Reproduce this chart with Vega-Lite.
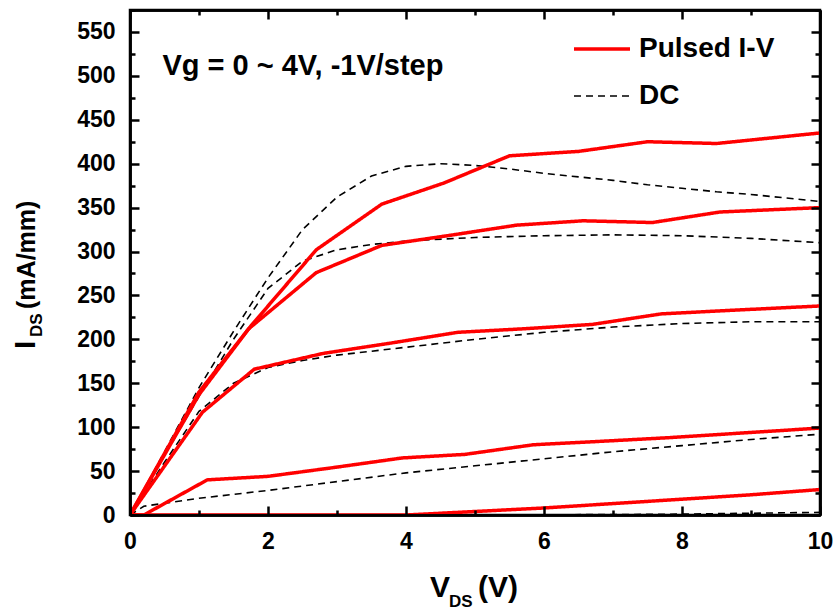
{
  "$schema": "https://vega.github.io/schema/vega-lite/v6.json",
  "width": 690,
  "height": 505,
  "autosize": "none",
  "padding": {"left": 130, "top": 10, "right": 17, "bottom": 99},
  "config": {
    "view": {"stroke": "black", "strokeWidth": 2.5},
    "font": "Liberation Sans",
    "axis": {
      "domain": true,
      "domainColor": "black",
      "domainWidth": 2.5,
      "grid": false,
      "ticks": true,
      "tickColor": "black",
      "tickWidth": 2.5,
      "tickOpacity": 1,
      "labelFlush": false,
      "labelFont": "Liberation Sans",
      "labelFontWeight": "bold",
      "labelFontSize": 23,
      "labelColor": "black",
      "title": null,
      "zindex": 5
    }
  },
  "datasets": {
    "one": [{}],
    "curves": [
      {"t": "DC", "s": "DC 0", "x": 0, "y": 0},
      {"t": "DC", "s": "DC 0", "x": 0.5, "y": 72},
      {"t": "DC", "s": "DC 0", "x": 1, "y": 145},
      {"t": "DC", "s": "DC 0", "x": 1.5, "y": 209},
      {"t": "DC", "s": "DC 0", "x": 2, "y": 270},
      {"t": "DC", "s": "DC 0", "x": 2.5, "y": 325},
      {"t": "DC", "s": "DC 0", "x": 3, "y": 362},
      {"t": "DC", "s": "DC 0", "x": 3.5, "y": 386},
      {"t": "DC", "s": "DC 0", "x": 4, "y": 397},
      {"t": "DC", "s": "DC 0", "x": 4.5, "y": 400},
      {"t": "DC", "s": "DC 0", "x": 5, "y": 398},
      {"t": "DC", "s": "DC 0", "x": 5.5, "y": 394},
      {"t": "DC", "s": "DC 0", "x": 6, "y": 389},
      {"t": "DC", "s": "DC 0", "x": 6.5, "y": 385},
      {"t": "DC", "s": "DC 0", "x": 7, "y": 381},
      {"t": "DC", "s": "DC 0", "x": 7.5, "y": 376},
      {"t": "DC", "s": "DC 0", "x": 8, "y": 372},
      {"t": "DC", "s": "DC 0", "x": 8.5, "y": 368},
      {"t": "DC", "s": "DC 0", "x": 9, "y": 365},
      {"t": "DC", "s": "DC 0", "x": 9.5, "y": 361},
      {"t": "DC", "s": "DC 0", "x": 10, "y": 357},
      {"t": "DC", "s": "DC -1", "x": 0, "y": 0},
      {"t": "DC", "s": "DC -1", "x": 0.5, "y": 68},
      {"t": "DC", "s": "DC -1", "x": 1, "y": 135},
      {"t": "DC", "s": "DC -1", "x": 1.5, "y": 200},
      {"t": "DC", "s": "DC -1", "x": 2, "y": 258},
      {"t": "DC", "s": "DC -1", "x": 2.5, "y": 289},
      {"t": "DC", "s": "DC -1", "x": 3, "y": 302},
      {"t": "DC", "s": "DC -1", "x": 3.5, "y": 308},
      {"t": "DC", "s": "DC -1", "x": 4, "y": 312},
      {"t": "DC", "s": "DC -1", "x": 5, "y": 316},
      {"t": "DC", "s": "DC -1", "x": 6, "y": 318},
      {"t": "DC", "s": "DC -1", "x": 7, "y": 319},
      {"t": "DC", "s": "DC -1", "x": 8, "y": 318},
      {"t": "DC", "s": "DC -1", "x": 9, "y": 315},
      {"t": "DC", "s": "DC -1", "x": 10, "y": 310},
      {"t": "DC", "s": "DC -2", "x": 0, "y": 0},
      {"t": "DC", "s": "DC -2", "x": 0.5, "y": 60},
      {"t": "DC", "s": "DC -2", "x": 1, "y": 118},
      {"t": "DC", "s": "DC -2", "x": 1.5, "y": 150},
      {"t": "DC", "s": "DC -2", "x": 2, "y": 168},
      {"t": "DC", "s": "DC -2", "x": 2.5, "y": 176},
      {"t": "DC", "s": "DC -2", "x": 3, "y": 182},
      {"t": "DC", "s": "DC -2", "x": 4, "y": 191},
      {"t": "DC", "s": "DC -2", "x": 5, "y": 200},
      {"t": "DC", "s": "DC -2", "x": 6, "y": 208},
      {"t": "DC", "s": "DC -2", "x": 7, "y": 214},
      {"t": "DC", "s": "DC -2", "x": 8, "y": 218},
      {"t": "DC", "s": "DC -2", "x": 9, "y": 220},
      {"t": "DC", "s": "DC -2", "x": 10, "y": 220},
      {"t": "DC", "s": "DC -3", "x": 0, "y": 0},
      {"t": "DC", "s": "DC -3", "x": 0.2, "y": 10},
      {"t": "DC", "s": "DC -3", "x": 1, "y": 19},
      {"t": "DC", "s": "DC -3", "x": 2, "y": 28},
      {"t": "DC", "s": "DC -3", "x": 3, "y": 38},
      {"t": "DC", "s": "DC -3", "x": 4, "y": 48},
      {"t": "DC", "s": "DC -3", "x": 5, "y": 56},
      {"t": "DC", "s": "DC -3", "x": 6, "y": 64},
      {"t": "DC", "s": "DC -3", "x": 7, "y": 72},
      {"t": "DC", "s": "DC -3", "x": 8, "y": 79},
      {"t": "DC", "s": "DC -3", "x": 9, "y": 86},
      {"t": "DC", "s": "DC -3", "x": 10, "y": 92},
      {"t": "DC", "s": "DC -4", "x": 0, "y": 0},
      {"t": "DC", "s": "DC -4", "x": 5, "y": 0},
      {"t": "DC", "s": "DC -4", "x": 7, "y": 0.5},
      {"t": "DC", "s": "DC -4", "x": 8, "y": 1},
      {"t": "DC", "s": "DC -4", "x": 9, "y": 2},
      {"t": "DC", "s": "DC -4", "x": 10, "y": 3},
      {"t": "Pulsed I-V", "s": "P 0", "x": 0, "y": 0},
      {"t": "Pulsed I-V", "s": "P 0", "x": 1.0, "y": 140},
      {"t": "Pulsed I-V", "s": "P 0", "x": 1.75, "y": 215},
      {"t": "Pulsed I-V", "s": "P 0", "x": 2.7, "y": 302},
      {"t": "Pulsed I-V", "s": "P 0", "x": 3.65, "y": 354},
      {"t": "Pulsed I-V", "s": "P 0", "x": 4.55, "y": 378},
      {"t": "Pulsed I-V", "s": "P 0", "x": 5.5, "y": 409},
      {"t": "Pulsed I-V", "s": "P 0", "x": 6.5, "y": 414},
      {"t": "Pulsed I-V", "s": "P 0", "x": 7.5, "y": 425},
      {"t": "Pulsed I-V", "s": "P 0", "x": 8.5, "y": 423},
      {"t": "Pulsed I-V", "s": "P 0", "x": 10, "y": 435},
      {"t": "Pulsed I-V", "s": "P -1", "x": 0, "y": 0},
      {"t": "Pulsed I-V", "s": "P -1", "x": 1.0, "y": 137},
      {"t": "Pulsed I-V", "s": "P -1", "x": 1.72, "y": 212},
      {"t": "Pulsed I-V", "s": "P -1", "x": 2.7, "y": 276},
      {"t": "Pulsed I-V", "s": "P -1", "x": 3.65, "y": 307},
      {"t": "Pulsed I-V", "s": "P -1", "x": 4.6, "y": 318},
      {"t": "Pulsed I-V", "s": "P -1", "x": 5.6, "y": 330},
      {"t": "Pulsed I-V", "s": "P -1", "x": 6.57, "y": 335},
      {"t": "Pulsed I-V", "s": "P -1", "x": 7.57, "y": 333},
      {"t": "Pulsed I-V", "s": "P -1", "x": 8.55, "y": 345},
      {"t": "Pulsed I-V", "s": "P -1", "x": 10, "y": 350},
      {"t": "Pulsed I-V", "s": "P -2", "x": 0, "y": 0},
      {"t": "Pulsed I-V", "s": "P -2", "x": 1.05, "y": 117},
      {"t": "Pulsed I-V", "s": "P -2", "x": 1.8, "y": 166},
      {"t": "Pulsed I-V", "s": "P -2", "x": 2.8, "y": 184},
      {"t": "Pulsed I-V", "s": "P -2", "x": 3.8, "y": 196},
      {"t": "Pulsed I-V", "s": "P -2", "x": 4.75, "y": 208},
      {"t": "Pulsed I-V", "s": "P -2", "x": 5.7, "y": 212},
      {"t": "Pulsed I-V", "s": "P -2", "x": 6.7, "y": 217},
      {"t": "Pulsed I-V", "s": "P -2", "x": 7.7, "y": 229},
      {"t": "Pulsed I-V", "s": "P -2", "x": 8.7, "y": 233},
      {"t": "Pulsed I-V", "s": "P -2", "x": 10, "y": 238},
      {"t": "Pulsed I-V", "s": "P -3", "x": 0, "y": 0},
      {"t": "Pulsed I-V", "s": "P -3", "x": 0.2, "y": 0},
      {"t": "Pulsed I-V", "s": "P -3", "x": 1.12, "y": 40},
      {"t": "Pulsed I-V", "s": "P -3", "x": 2.0, "y": 44},
      {"t": "Pulsed I-V", "s": "P -3", "x": 2.95, "y": 54},
      {"t": "Pulsed I-V", "s": "P -3", "x": 3.95, "y": 65},
      {"t": "Pulsed I-V", "s": "P -3", "x": 4.85, "y": 69},
      {"t": "Pulsed I-V", "s": "P -3", "x": 5.85, "y": 80},
      {"t": "Pulsed I-V", "s": "P -3", "x": 6.85, "y": 84},
      {"t": "Pulsed I-V", "s": "P -3", "x": 7.8, "y": 88},
      {"t": "Pulsed I-V", "s": "P -3", "x": 8.8, "y": 93},
      {"t": "Pulsed I-V", "s": "P -3", "x": 10, "y": 99},
      {"t": "Pulsed I-V", "s": "P -4", "x": 0, "y": 0},
      {"t": "Pulsed I-V", "s": "P -4", "x": 1, "y": 0},
      {"t": "Pulsed I-V", "s": "P -4", "x": 2, "y": 0},
      {"t": "Pulsed I-V", "s": "P -4", "x": 3, "y": 0},
      {"t": "Pulsed I-V", "s": "P -4", "x": 4, "y": 0},
      {"t": "Pulsed I-V", "s": "P -4", "x": 5, "y": 4},
      {"t": "Pulsed I-V", "s": "P -4", "x": 6, "y": 8},
      {"t": "Pulsed I-V", "s": "P -4", "x": 7, "y": 13},
      {"t": "Pulsed I-V", "s": "P -4", "x": 8, "y": 18},
      {"t": "Pulsed I-V", "s": "P -4", "x": 9, "y": 23},
      {"t": "Pulsed I-V", "s": "P -4", "x": 10, "y": 29}
    ]
  },
  "layer": [
    {
      "data": {"name": "curves"},
      "mark": {"type": "line", "clip": true},
      "encoding": {
        "x": {
          "field": "x", "type": "quantitative",
          "scale": {"domain": [0, 10], "nice": false, "zero": false},
          "axis": {
            "orient": "bottom",
            "values": [0, 2, 4, 6, 8, 10],
            "ticks": true, "tickColor": "black", "tickWidth": 2.5, "zindex": 5,
            "tickSize": -9,
            "labelPadding": 24
          }
        },
        "y": {
          "field": "y", "type": "quantitative",
          "scale": {"domain": [0, 575], "nice": false, "zero": false},
          "axis": {
            "orient": "left",
            "values": [0, 50, 100, 150, 200, 250, 300, 350, 400, 450, 500, 550],
            "ticks": true, "tickColor": "black", "tickWidth": 2.5, "zindex": 5,
            "tickSize": -9,
            "labelPadding": 24
          }
        },
        "detail": {"field": "s"},
        "color": {
          "field": "t", "type": "nominal",
          "scale": {"domain": ["Pulsed I-V", "DC"], "range": ["#ff0000", "#000000"]},
          "legend": {
            "orient": "none",
            "legendX": 442,
            "legendY": 9,
            "title": null,
            "padding": 0,
            "symbolType": "stroke",
            "symbolSize": 3136,
            "rowPadding": 4,
            "labelOffset": 7,
            "labelFont": "Liberation Sans",
            "labelFontWeight": "bold",
            "labelFontSize": 28,
            "labelColor": "black"
          }
        },
        "strokeDash": {
          "field": "t", "type": "nominal",
          "scale": {"domain": ["Pulsed I-V", "DC"], "range": [[1, 0], [7, 5]]}
        },
        "strokeWidth": {
          "field": "t", "type": "nominal",
          "scale": {"domain": ["Pulsed I-V", "DC"], "range": [3.5, 1.6]}
        }
      }
    },
    {
      "data": {"name": "one"},
      "mark": {"type": "text", "text": "Vg = 0 ~ 4V, -1V/step", "align": "left", "baseline": "alphabetic", "font": "Liberation Sans", "fontWeight": "bold", "fontSize": 29, "color": "black"},
      "encoding": {
        "x": {
          "datum": 0.47, "type": "quantitative",
          "axis": {"orient": "top", "labels": false, "values": [0, 2, 4, 6, 8, 10], "ticks": true, "tickColor": "black", "tickWidth": 2.5, "zindex": 5, "tickSize": -9}
        },
        "y": {
          "datum": 501, "type": "quantitative",
          "axis": {"orient": "right", "labels": false, "values": [0, 50, 100, 150, 200, 250, 300, 350, 400, 450, 500, 550], "ticks": true, "tickColor": "black", "tickWidth": 2.5, "zindex": 5, "tickSize": -9}
        }
      }
    },
    {
      "data": {"name": "one"},
      "mark": {"type": "text", "text": "V", "align": "right", "baseline": "alphabetic", "font": "Liberation Sans", "fontWeight": "bold", "fontSize": 30, "color": "black"},
      "encoding": {
        "x": {
          "datum": 4.638, "type": "quantitative",
          "axis": {"orient": "bottom", "labels": false, "values": [1, 3, 5, 7, 9], "ticks": true, "tickColor": "black", "tickWidth": 2.5, "zindex": 5, "tickSize": -5}
        },
        "y": {
          "datum": -93.4, "type": "quantitative",
          "axis": {"orient": "left", "labels": false, "values": [25, 75, 125, 175, 225, 275, 325, 375, 425, 475, 525, 575], "ticks": true, "tickColor": "black", "tickWidth": 2.5, "zindex": 5, "tickSize": -5}
        }
      }
    },
    {
      "data": {"name": "one"},
      "mark": {"type": "text", "text": "DS", "align": "left", "baseline": "alphabetic", "font": "Liberation Sans", "fontWeight": "bold", "fontSize": 17, "color": "black"},
      "encoding": {
        "x": {
          "datum": 4.623, "type": "quantitative",
          "axis": {"orient": "top", "labels": false, "values": [1, 3, 5, 7, 9], "ticks": true, "tickColor": "black", "tickWidth": 2.5, "zindex": 5, "tickSize": -5}
        },
        "y": {
          "datum": -104.8, "type": "quantitative",
          "axis": {"orient": "right", "labels": false, "values": [25, 75, 125, 175, 225, 275, 325, 375, 425, 475, 525, 575], "ticks": true, "tickColor": "black", "tickWidth": 2.5, "zindex": 5, "tickSize": -5}
        }
      }
    },
    {
      "data": {"name": "one"},
      "mark": {"type": "text", "text": "(V)", "align": "left", "baseline": "alphabetic", "font": "Liberation Sans", "fontWeight": "bold", "fontSize": 30, "color": "black"},
      "encoding": {
        "x": {"datum": 5.043, "type": "quantitative", "axis": null},
        "y": {"datum": -93.4, "type": "quantitative", "axis": null}
      }
    },
    {
      "data": {"name": "one"},
      "mark": {"type": "text", "text": "I", "angle": 270, "align": "left", "baseline": "alphabetic", "font": "Liberation Sans", "fontWeight": "bold", "fontSize": 30, "color": "black"},
      "encoding": {
        "x": {"datum": -1.377, "type": "quantitative", "axis": null},
        "y": {"datum": 189, "type": "quantitative", "axis": null}
      }
    },
    {
      "data": {"name": "one"},
      "mark": {"type": "text", "text": "DS", "angle": 270, "align": "left", "baseline": "alphabetic", "font": "Liberation Sans", "fontWeight": "bold", "fontSize": 17, "color": "black"},
      "encoding": {
        "x": {"datum": -1.275, "type": "quantitative", "axis": null},
        "y": {"datum": 202.7, "type": "quantitative", "axis": null}
      }
    },
    {
      "data": {"name": "one"},
      "mark": {"type": "text", "text": "(mA/mm)", "angle": 270, "align": "left", "baseline": "alphabetic", "font": "Liberation Sans", "fontWeight": "bold", "fontSize": 25, "color": "black"},
      "encoding": {
        "x": {"datum": -1.377, "type": "quantitative", "axis": null},
        "y": {"datum": 234.6, "type": "quantitative", "axis": null}
      }
    }
  ],
  "resolve": {"axis": {"x": "independent", "y": "independent"}}
}
